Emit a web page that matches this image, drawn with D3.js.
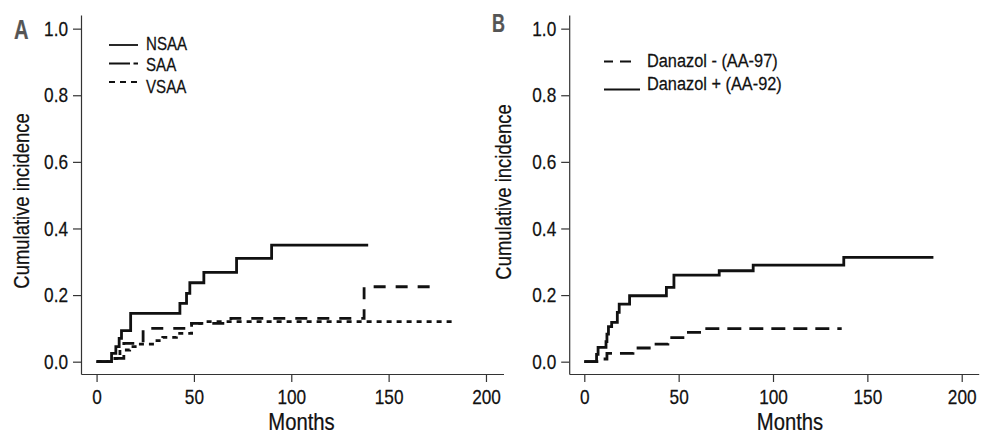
<!DOCTYPE html>
<html>
<head>
<meta charset="utf-8">
<script src="https://cdn.jsdelivr.net/npm/d3@7"></script>
<style>
  body { margin: 0; background: #fff; }
  svg text { font-family: "Liberation Sans", Arial, sans-serif; fill: #111; stroke: #111; stroke-width: 0.25; }
  .axis path, .axis line { stroke: #333; stroke-width: 1.2; }
</style>
</head>
<body>
<div class="chart"></div>
<script>
// Cumulative incidence, two panels (A: severity groups, B: danazol)

// ticks
var xTicks = [0, 50, 100, 150, 200];
var yTicks = [0, 0.2, 0.4, 0.6, 0.8, 1.0];

// panel A - step points (months, cumulative incidence), last point = end of follow-up
var nsaaMonths = [0, 7.7, 9.9, 11.6, 12.8, 17.5, 42.8, 46.2, 47.9, 55.1, 71.9, 89.9, 139.5];
var nsaaCI     = [0, 0.025, 0.045, 0.07, 0.093, 0.145, 0.175, 0.205, 0.237, 0.268, 0.31, 0.35, 0.35];

var saaMonths = [0, 9.4, 14, 23.9, 48.8, 69, 137.4, 174.6];
var saaCI     = [0, 0.01, 0.055, 0.1, 0.115, 0.13, 0.225, 0.225];

var vsaaMonths = [0, 9.4, 12, 17, 21.4, 30, 34, 41, 48.8, 55, 183.2];
var vsaaCI     = [0, 0.01, 0.035, 0.045, 0.053, 0.063, 0.073, 0.085, 0.115, 0.12, 0.12];

// panel B
var danMinusMonths = [0, 10, 12, 25.8, 35.3, 44.3, 53.3, 64, 136.4];
var danMinusCI     = [0, 0.008, 0.025, 0.041, 0.053, 0.072, 0.088, 0.099, 0.099];

var danPlusMonths = [0, 6.5, 7.3, 11.5, 12, 12.8, 14.5, 17.5, 18.5, 24, 43.5, 47.5, 71.5, 89.5, 137.5, 185];
var danPlusCI     = [0, 0.022, 0.043, 0.06, 0.083, 0.105, 0.118, 0.148, 0.173, 0.198, 0.223, 0.26, 0.273, 0.29, 0.313, 0.313];

// condensed look: squeeze Liberation Sans horizontally
var squeeze = 0.82;

var svg = d3.select(".chart").append("svg")
    .attr("width", 987)
    .attr("height", 435);

function toPoints(months, ci) {
    return months.map((m, i) => [m, ci[i]]);
}

// put a text at (x, y) squeezed horizontally by k
function narrowText(g, x, y, k, str) {
    return g.append("text")
        .attr("transform", `translate(${x}, ${y}) scale(${k}, 1)`)
        .text(str);
}

function drawPanel(p) {
    var x = d3.scaleLinear().domain([-8, 209]).range(p.xRange);
    var y = d3.scaleLinear().domain([-0.037, 1.041]).range([374, 15]);

    var g = svg.append("g");

    // axes (L-shaped frame)
    g.append("g")
        .attr("class", "axis")
        .attr("transform", `translate(0, ${y(-0.037)})`)
        .call(d3.axisBottom(x).tickValues(xTicks).tickSize(8).tickSizeOuter(0).tickPadding(7))
        .call(a => a.selectAll("text")
            .style("font-size", "21px")
            .attr("fill", "#111")
            .attr("transform", `scale(${squeeze}, 1)`));

    g.append("g")
        .attr("class", "axis")
        .attr("transform", `translate(${x(-8)}, 0)`)
        .call(d3.axisLeft(y).tickValues(yTicks).tickFormat(d3.format(".1f")).tickSize(8).tickSizeOuter(0).tickPadding(5))
        .call(a => a.selectAll("text")
            .style("font-size", "21px")
            .attr("fill", "#111")
            .attr("x", -13 / squeeze)
            .attr("transform", `scale(${squeeze}, 1)`));

    // axis titles
    narrowText(g, p.monthsX, 429.5, 0.88, "Months")
        .style("text-anchor", "middle")
        .style("font-size", "23px");

    g.append("text")
        .attr("transform", `translate(${p.yLabelX}, ${p.yLabelY}) rotate(-90) scale(${squeeze}, 1)`)
        .style("text-anchor", "middle")
        .style("font-size", "22.5px")
        .text("Cumulative incidence");

    // panel letter
    narrowText(g, p.letterX, p.letterY, 0.72, p.letter)
        .style("font-size", p.letterSize)
        .style("font-weight", "bold")
        .style("fill", "#555")
        .style("stroke", "#555");

    var line = d3.line()
        .curve(d3.curveStepAfter)
        .x(d => x(d[0]))
        .y(d => y(d[1]));

    p.series.forEach(s => {
        g.append("path")
            .datum(toPoints(s.months, s.ci))
            .attr("fill", "none")
            .attr("stroke", "#111")
            .attr("stroke-width", 2.8)
            .attr("stroke-dasharray", s.dash)
            .attr("d", line);
    });

    // legend
    p.legend.forEach(l => {
        g.append("line")
            .attr("x1", l.x1).attr("x2", l.x2)
            .attr("y1", l.ly).attr("y2", l.ly)
            .attr("stroke", "#111")
            .attr("stroke-width", 1.8)
            .attr("stroke-dasharray", l.dash);
        narrowText(g, l.tx, l.ty, l.k, l.label)
            .style("font-size", l.size);
    });
}

drawPanel({
    xRange: [81, 503.5],
    yLabelX: 29, yLabelY: 201,
    monthsX: 301.5,
    letter: "A", letterX: 14, letterY: 38.5, letterSize: "28px",
    series: [
        {months: nsaaMonths, ci: nsaaCI, dash: null},
        {months: saaMonths, ci: saaCI, dash: "12,10"},
        {months: vsaaMonths, ci: vsaaCI, dash: "5,5"}
    ],
    legend: [
        {label: "NSAA", x1: 109, x2: 138, ly: 45, tx: 146, ty: 50, dash: null, size: "18px", k: 0.84},
        {label: "SAA", x1: 109, x2: 138, ly: 63.5, tx: 146, ty: 71, dash: "21,3.5,5", size: "18px", k: 0.84},
        {label: "VSAA", x1: 109, x2: 138, ly: 82, tx: 146, ty: 92.5, dash: "6,5", size: "18px", k: 0.84}
    ]
});

drawPanel({
    xRange: [569.2, 978.7],
    yLabelX: 511, yLabelY: 192,
    monthsX: 790,
    letter: "B", letterX: 492, letterY: 31.5, letterSize: "25px",
    series: [
        {months: danMinusMonths, ci: danMinusCI, dash: "14,8"},
        {months: danPlusMonths, ci: danPlusCI, dash: null}
    ],
    legend: [
        {label: "Danazol - (AA-97)", x1: 604, x2: 631, ly: 61.5, tx: 647, ty: 66.5, dash: "9,7,11", size: "19px", k: 0.86},
        {label: "Danazol + (AA-92)", x1: 604, x2: 640, ly: 89.5, tx: 647, ty: 89.5, dash: null, size: "19px", k: 0.86}
    ]
});
</script>
</body>
</html>
